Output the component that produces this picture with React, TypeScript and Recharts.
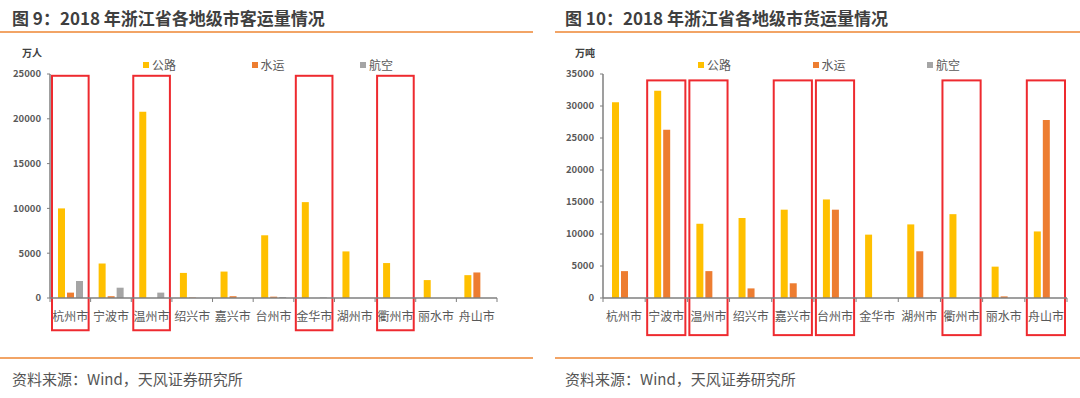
import { BarChart, Bar, XAxis, YAxis, ReferenceArea } from 'recharts';

// 城市(两张图共用)
const cities = ['杭州市', '宁波市', '温州市', '绍兴市', '嘉兴市', '台州市', '金华市', '湖州市', '衢州市', '丽水市', '舟山市'];

// 图 9:客运量(万人)
const passengerRoad = [10000, 3850, 20800, 2800, 2950, 7000, 10700, 5200, 3900, 2000, 2550];
const passengerWater = [600, 200, 0, 50, 200, 150, 0, 0, 0, 0, 2850];
const passengerAir = [1900, 1150, 600, 0, 0, 100, 60, 0, 0, 0, 0];
const passengerTicks = [0, 5000, 10000, 15000, 20000, 25000];
const passengerBoxes = ['杭州市', '温州市', '金华市', '衢州市'];

// 图 10:货运量(万吨)
const freightRoad = [30600, 32400, 11600, 12500, 13800, 15400, 9900, 11500, 13100, 4900, 10400];
const freightWater = [4200, 26300, 4200, 1500, 2300, 13800, 0, 7300, 0, 250, 27800];
const freightAir = [0, 0, 0, 0, 0, 0, 0, 0, 0, 0, 0];
const freightTicks = [0, 5000, 10000, 15000, 20000, 25000, 30000, 35000];
const freightBoxes = ['宁波市', '温州市', '嘉兴市', '台州市', '衢州市', '舟山市'];

const series = [
  { key: '公路', color: '#ffc000' },
  { key: '水运', color: '#ed7d31' },
  { key: '航空', color: '#a5a5a5' },
];
const ORANGE = '#f2a466';
const RED = '#ee2a2f';
const AXIS = '#7f7f7f';
const FONT = '"Noto Sans CJK SC", "Noto Sans", sans-serif';
const X_TICK_SIZE = 6;
const X_TICK_MARGIN = 8;

function build(road: number[], water: number[], air: number[]) {
  return cities.map((c, i) => ({ city: c, 公路: road[i], 水运: water[i], 航空: air[i] }));
}

const BoxShape = (props: any) => (
  <rect
    x={props.x + 2}
    y={props.y}
    width={props.width - 4}
    height={props.height}
    fill="none"
    stroke={RED}
    strokeWidth={2}
  />
);

// 类目刻度线画在类目分界处(Excel 风格),文字居中
function makeCityTick(band: number) {
  return (props: any) => {
    const { x, y, payload, index } = props;
    const axisY = y - X_TICK_SIZE - X_TICK_MARGIN;
    const lx = x - band / 2;
    return (
      <g>
        <line x1={lx} x2={lx} y1={axisY} y2={axisY + 4} stroke={AXIS} strokeWidth={1} />
        {index === cities.length - 1 && (
          <line x1={x + band / 2} x2={x + band / 2} y1={axisY} y2={axisY + 4} stroke={AXIS} strokeWidth={1} />
        )}
        <text x={x} y={y} dy="0.71em" textAnchor="middle" fontSize={12} fill="#595959" fontFamily={FONT}>
          {payload.value}
        </text>
      </g>
    );
  };
}

interface PanelProps {
  left: number;
  width: number;
  rightMargin: number;
  title: string;
  unit: string;
  data: any[];
  ticks: number[];
  boxes: string[];
  boxRange: [number, number];
  legendLeft: number;
  legendStep: number;
  lineLeft: number;
  lineWidth: number;
}

function Panel(p: PanelProps) {
  const max = p.ticks[p.ticks.length - 1];
  const band = (p.width - 50 - p.rightMargin) / cities.length;
  return (
    <>
      <div style={{ position: 'absolute', left: p.left + 12, top: 5, fontFamily: FONT, fontSize: 17, fontWeight: 700, color: '#3f3f3f', whiteSpace: 'nowrap' }}>
        {p.title}
      </div>
      <div style={{ position: 'absolute', left: p.lineLeft, top: 31, width: p.lineWidth, height: 2, background: ORANGE }} />
      <div style={{ position: 'absolute', left: p.left + 22, top: 45, fontFamily: FONT, fontSize: 10, fontWeight: 700, color: '#404040' }}>
        {p.unit}
      </div>
      <div style={{ position: 'absolute', left: p.left + p.legendLeft, top: 56, display: 'flex', fontFamily: FONT, fontSize: 12, color: '#595959' }}>
        {series.map((s) => (
          <div key={s.key} style={{ width: p.legendStep, display: 'flex', alignItems: 'center' }}>
            <span style={{ width: 6, height: 6, background: s.color, marginRight: 3 }} />
            {s.key}
          </div>
        ))}
      </div>
      <div style={{ position: 'absolute', left: p.left, top: 40 }}>
        <BarChart
          width={p.width}
          height={300}
          data={p.data}
          margin={{ top: 34, right: p.rightMargin, left: 0, bottom: 12 }}
          barSize={7}
          barGap={2}
        >
          <XAxis
            dataKey="city"
            axisLine={{ stroke: AXIS, strokeWidth: 1.5 }}
            tickLine={false}
            tickSize={X_TICK_SIZE}
            tickMargin={X_TICK_MARGIN}
            height={30}
            interval={0}
            tick={makeCityTick(band)}
          />
          <YAxis
            domain={[0, max]}
            ticks={p.ticks}
            width={50}
            axisLine={{ stroke: AXIS, strokeWidth: 1.5 }}
            tickLine={{ stroke: AXIS }}
            tickSize={3}
            tickMargin={6}
            tick={{ fontSize: 9.5, fill: '#595959', fontWeight: 700, fontFamily: FONT }}
          />
          {series.map((s) => (
            <Bar key={s.key} dataKey={s.key} fill={s.color} isAnimationActive={false} />
          ))}
          {p.boxes.map((c) => (
            <ReferenceArea
              key={c}
              x1={c}
              x2={c}
              y1={p.boxRange[0]}
              y2={p.boxRange[1]}
              ifOverflow="visible"
              shape={BoxShape}
            />
          ))}
        </BarChart>
      </div>
      <div style={{ position: 'absolute', left: p.lineLeft, top: 357, width: p.lineWidth, height: 2, background: ORANGE }} />
      <div style={{ position: 'absolute', left: p.left + 12, top: 368, fontFamily: FONT, fontSize: 15, color: '#555', whiteSpace: 'nowrap' }}>
        资料来源：Wind，天风证券研究所
      </div>
    </>
  );
}

export default function App() {
  return (
    <div style={{ position: 'absolute', left: 0, top: 0, width: 1080, height: 398, background: '#fff', overflow: 'hidden' }}>
      <Panel
        left={0}
        width={530}
        rightMargin={33}
        title="图 9：2018 年浙江省各地级市客运量情况"
        unit="万人"
        data={build(passengerRoad, passengerWater, passengerAir)}
        ticks={passengerTicks}
        boxes={passengerBoxes}
        boxRange={[-3600, 24800]}
        legendLeft={143}
        legendStep={108.5}
        lineLeft={0}
        lineWidth={533}
      />
      <Panel
        left={553}
        width={527}
        rightMargin={13}
        title="图 10：2018 年浙江省各地级市货运量情况"
        unit="万吨"
        data={build(freightRoad, freightWater, freightAir)}
        ticks={freightTicks}
        boxes={freightBoxes}
        boxRange={[-5800, 34000]}
        legendLeft={145}
        legendStep={114.5}
        lineLeft={555}
        lineWidth={525}
      />
    </div>
  );
}
